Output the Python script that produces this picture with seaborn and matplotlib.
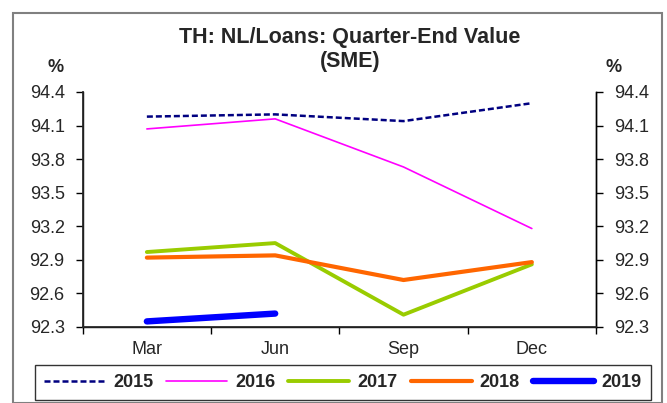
import matplotlib
matplotlib.use("Agg")
import matplotlib.pyplot as plt
from matplotlib.patches import Rectangle
from matplotlib.ticker import FixedLocator
import seaborn as sns
import pandas as pd

# Quarter-end values of the SME NL/Loans ratio (%)
quarters = ["Mar", "Jun", "Sep", "Dec"]
y2015 = [94.18, 94.20, 94.14, 94.30]
y2016 = [94.07, 94.16, 93.73, 93.18]
y2017 = [92.97, 93.05, 92.41, 92.86]
y2018 = [92.92, 92.94, 92.72, 92.88]
y2019 = [92.35, 92.42]
yticks = [92.3, 92.6, 92.9, 93.2, 93.5, 93.8, 94.1, 94.4]

series = {"2015": y2015, "2016": y2016, "2017": y2017, "2018": y2018, "2019": y2019}
styles = {
    "2015": dict(color="#000080", lw=1.8, ls=(0, (2.4, 1.2))),
    "2016": dict(color="#FF00FF", lw=1.2, ls="-"),
    "2017": dict(color="#99CC00", lw=2.8, ls="-"),
    "2018": dict(color="#FF6600", lw=3.0, ls="-"),
    "2019": dict(color="#0000FF", lw=4.6, ls="-"),
}

sns.set_theme(style="white")
plt.rcParams["font.family"] = ["Liberation Sans", "DejaVu Sans"]

fig = plt.figure(figsize=(6.67, 4.03), dpi=100)
fig.patch.set_facecolor("white")
# outer chart border
fig.add_artist(Rectangle((13 / 667, 0.0), 649 / 667, 1 - 13 / 403,
                         transform=fig.transFigure, fill=False,
                         edgecolor="#808080", lw=1.5))

ax = fig.add_axes([82.7 / 667, 1 - 327 / 403, (596 - 82.7) / 667, (327 - 92) / 403])

rows = []
for name, vals in series.items():
    for i, v in enumerate(vals):
        rows.append({"series": name, "pos": i, "value": v})
df = pd.DataFrame(rows)

for name in series:
    st = styles[name]
    sub = df[df["series"] == name]
    sns.lineplot(data=sub, x="pos", y="value", ax=ax, color=st["color"],
                 linewidth=st["lw"], linestyle=st["ls"], label=name,
                 solid_capstyle="round", dash_capstyle="butt", legend=False)

tick_fs = 13
ax.set_xlim(-0.5, 3.5)
ax.set_ylim(92.3, 94.4)
ax.set_yticks(yticks)
ax.set_yticklabels([f"{t:.1f}" for t in yticks], fontsize=tick_fs)
ax.set_xticks(range(4))
ax.set_xticklabels(quarters, fontsize=tick_fs)
ax.xaxis.set_minor_locator(FixedLocator([-0.5, 0.5, 1.5, 2.5, 3.5]))
ax.tick_params(axis="x", which="major", length=0, pad=10)
ax.tick_params(axis="x", which="minor", length=5, width=1, color="black", bottom=True)
ax.tick_params(axis="y", length=5, width=1, color="black", left=True, pad=8)
ax.set_xlabel("")
ax.set_ylabel("")
ax.spines["top"].set_visible(False)
for s in ["left", "bottom", "right"]:
    ax.spines[s].set_visible(True)
    ax.spines[s].set_color("black")
    ax.spines[s].set_linewidth(1.0)
ax.grid(False)

ax2 = ax.twinx()
ax2.set_ylim(92.3, 94.4)
ax2.set_yticks(yticks)
ax2.set_yticklabels([f"{t:.1f}" for t in yticks], fontsize=tick_fs)
ax2.tick_params(axis="y", length=5, width=1, color="black", right=True, pad=8)
ax2.spines["top"].set_visible(False)
ax2.spines["right"].set_color("black")
ax2.spines["right"].set_linewidth(1.0)
ax2.grid(False)

fig.text(350 / 667, 1 - 38 / 403, "TH: NL/Loans: Quarter-End Value", ha="center",
         va="center", fontsize=15.5, fontweight="bold")
fig.text(350 / 667, 1 - 61 / 403, "(SME)", ha="center", va="center",
         fontsize=15.5, fontweight="bold")
fig.text(56 / 667, 1 - 68 / 403, "%", ha="center", va="center", fontsize=13, fontweight="bold")
fig.text(614 / 667, 1 - 68 / 403, "%", ha="center", va="center", fontsize=13, fontweight="bold")

handles, labels = ax.get_legend_handles_labels()
leg = fig.legend(handles, labels, loc="center",
                 bbox_to_anchor=(343 / 667, 1 - 382.5 / 403),
                 ncol=5, frameon=True, fancybox=False,
                 handlelength=3.38, handletextpad=0.44, columnspacing=0.72,
                 borderpad=0.5, prop={"weight": "bold", "size": 13})
leg.get_frame().set_edgecolor("black")
leg.get_frame().set_linewidth(1.0)

fig.savefig("out.png", dpi=100, facecolor="white")
